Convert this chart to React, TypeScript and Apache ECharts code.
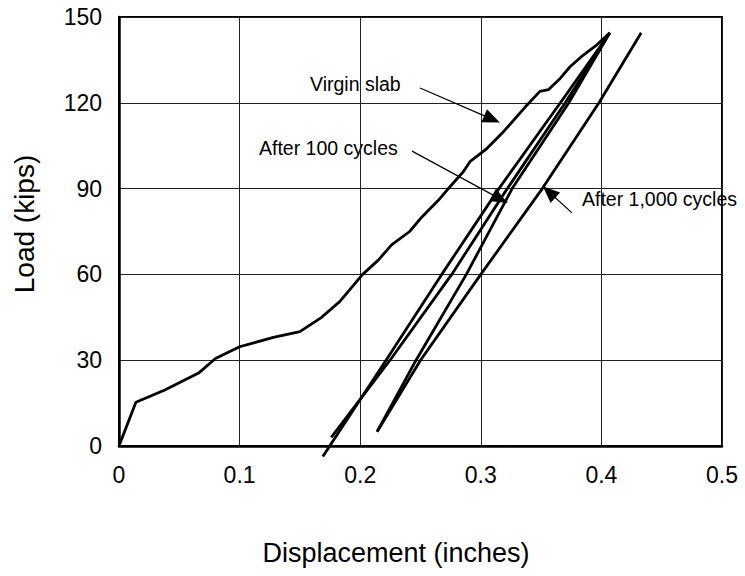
import React, { useEffect, useRef } from "react";
import * as echarts from "echarts";

// Axis ticks
const xTicks = [0, 0.1, 0.2, 0.3, 0.4, 0.5];
const yTicks = [0, 30, 60, 90, 120, 150];

// [displacement (in), load (kips)]
const virginLoading: [number, number][] = [
  [0, 0], [0.014, 15.3], [0.038, 19.6], [0.066, 25.5], [0.08, 30.6], [0.1, 34.7],
  [0.128, 38], [0.15, 40], [0.168, 45], [0.183, 50.5], [0.202, 60], [0.215, 65],
  [0.226, 70.3], [0.241, 75], [0.251, 80], [0.265, 86], [0.272, 89.5], [0.2855, 95.9],
  [0.291, 99.4], [0.305, 104], [0.319, 110], [0.337, 118.6], [0.349, 124], [0.356, 124.6],
  [0.366, 128.6], [0.374, 132.6], [0.385, 136.7], [0.396, 140.2], [0.407, 144.5],
];
const virginUnloading: [number, number][] = [
  [0.407, 144.5], [0.366, 120], [0.315, 90], [0.2676, 60], [0.2214, 30], [0.169, -3.7],
];
const cycles100Loading: [number, number][] = [
  [0.176, 3], [0.2247, 30], [0.2759, 60], [0.322, 90], [0.37, 120], [0.407, 144.5],
];
const cycles100Unloading: [number, number][] = [
  [0.407, 144.5], [0.373, 120], [0.326, 90], [0.288, 60], [0.2463, 30], [0.214, 5],
];
const cycles1000: [number, number][] = [
  [0.214, 5], [0.25, 30], [0.3, 60], [0.351, 90], [0.398, 120], [0.433, 144.5],
];

// Annotations
const labelTexts = ["Virgin slab", "After 100 cycles", "After 1,000 cycles"];
const arrowTails: [number, number][] = [[0.2496, 125.2], [0.243, 103.1], [0.3756, 81.5]];
const arrowHeads: [number, number][] = [[0.3093, 114.3], [0.316, 86.4], [0.3566, 88.8]];

const FONT = "'Liberation Sans', Arial, Helvetica, sans-serif";

export default function App() {
  const ref = useRef<HTMLDivElement>(null);
  useEffect(() => {
    document.body.style.margin = "0";
    if (!ref.current) return;
    const chart = echarts.init(ref.current, null, { renderer: "svg" });
    const lineBase = {
      type: "line" as const,
      symbol: "none",
      showSymbol: false,
      clip: false,
      silent: true,
      lineStyle: { color: "#000", width: 2.8 },
    };
    const arrow = (i: number) => ({
      silent: true,
      symbol: ["none", "triangle"],
      symbolSize: [14, 17],
      label: { show: false },
      lineStyle: { color: "#000", width: 1.2, type: "solid" },
      itemStyle: { color: "#000" },
      emphasis: { disabled: true },
      data: [[{ coord: arrowTails[i] }, { coord: arrowHeads[i] }]],
    });
    chart.setOption({
      animation: false,
      grid: {
        left: 119,
        top: 17,
        width: 603,
        height: 429,
        show: true,
        borderColor: "#000",
        borderWidth: 2,
        backgroundColor: "#fff",
      },
      xAxis: {
        type: "value",
        min: xTicks[0],
        max: xTicks[xTicks.length - 1],
        interval: 0.1,
        axisLine: { show: true, lineStyle: { color: "#000", width: 2.5 } },
        axisTick: { show: false },
        splitLine: { show: true, lineStyle: { color: "#222", width: 1 } },
        axisLabel: {
          fontSize: 23,
          fontFamily: FONT,
          color: "#000",
          margin: 17,
          formatter: (v: number) => (v === 0 ? "0" : v.toFixed(1)),
        },
      },
      yAxis: {
        type: "value",
        min: yTicks[0],
        max: yTicks[yTicks.length - 1],
        interval: 30,
        axisLine: { show: true, lineStyle: { color: "#000", width: 2.5 } },
        axisTick: { show: false },
        splitLine: { show: true, lineStyle: { color: "#222", width: 1 } },
        axisLabel: { fontSize: 23, fontFamily: FONT, color: "#000", margin: 17 },
      },
      series: [
        { ...lineBase, name: "Virgin slab", data: [...virginLoading, ...virginUnloading.slice(1)], markLine: arrow(0) },
        { ...lineBase, name: "After 100 cycles", data: [...cycles100Loading, ...cycles100Unloading.slice(1)], markLine: arrow(1) },
        { ...lineBase, name: "After 1,000 cycles", data: cycles1000, markLine: arrow(2) },
      ],
      graphic: [
        { type: "text", x: 310, y: 84, silent: true, style: { text: labelTexts[0], fontSize: 19.5, fontFamily: FONT, fill: "#000", align: "left", verticalAlign: "middle" } },
        { type: "text", x: 259, y: 147.5, silent: true, style: { text: labelTexts[1], fontSize: 19.5, fontFamily: FONT, fill: "#000", align: "left", verticalAlign: "middle" } },
        { type: "text", x: 582, y: 199, z: 100, silent: true, style: { text: labelTexts[2], fontSize: 19.5, fontFamily: FONT, fill: "#000", align: "left", verticalAlign: "middle" } },
        { type: "text", x: 24, y: 224, rotation: Math.PI / 2, silent: true, style: { text: "Load (kips)", fontSize: 28, fontFamily: FONT, fill: "#000", align: "center", verticalAlign: "middle" } },
        { type: "text", x: 396, y: 553, silent: true, style: { text: "Displacement (inches)", fontSize: 27, fontFamily: FONT, fill: "#000", align: "center", verticalAlign: "middle" } },
      ],
    });
    return () => chart.dispose();
  }, []);
  return <div ref={ref} style={{ width: 745, height: 576 }} />;
}
